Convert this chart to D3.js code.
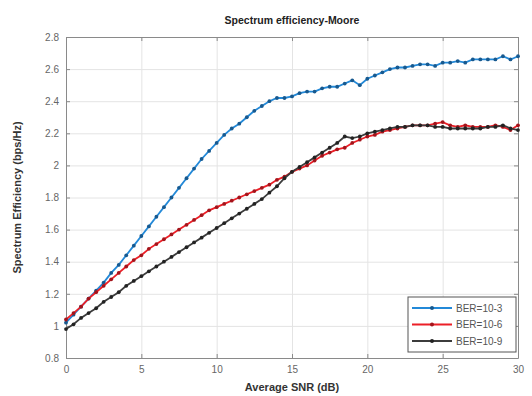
<!DOCTYPE html>
<html>
<head>
<meta charset="utf-8">
<script src="https://cdn.jsdelivr.net/npm/d3@7"></script>
<style>
  body { margin: 0; background: #fff; }
  svg { display: block; font-family: Arial, "Liberation Sans", sans-serif; }
</style>
</head>
<body>
<div id="vis"></div>
<script>
// SNR steps, 0..30 dB every 0.5 dB
var snr = d3.range(0, 30.01, 0.5);

var ber3 = [1.02, 1.07, 1.12, 1.17, 1.22, 1.27, 1.33, 1.38, 1.44, 1.50,
            1.56, 1.62, 1.68, 1.74, 1.80, 1.86, 1.92, 1.98, 2.04, 2.09,
            2.14, 2.19, 2.23, 2.26, 2.30, 2.34, 2.37, 2.40, 2.42, 2.42,
            2.43, 2.45, 2.46, 2.46, 2.48, 2.49, 2.49, 2.51, 2.53, 2.50,
            2.54, 2.56, 2.58, 2.60, 2.61, 2.61, 2.62, 2.63, 2.63, 2.62,
            2.64, 2.64, 2.65, 2.64, 2.66, 2.66, 2.66, 2.66, 2.68, 2.66, 2.68];

var ber6 = [1.04, 1.08, 1.12, 1.17, 1.21, 1.25, 1.29, 1.33, 1.37, 1.41,
            1.44, 1.48, 1.51, 1.54, 1.57, 1.60, 1.63, 1.66, 1.69, 1.72,
            1.74, 1.76, 1.78, 1.80, 1.82, 1.84, 1.86, 1.88, 1.91, 1.93,
            1.96, 1.98, 2.00, 2.03, 2.06, 2.08, 2.10, 2.11, 2.14, 2.16,
            2.18, 2.19, 2.21, 2.22, 2.23, 2.24, 2.25, 2.25, 2.25, 2.26,
            2.27, 2.25, 2.24, 2.25, 2.24, 2.24, 2.24, 2.25, 2.24, 2.22, 2.25];

var ber9 = [0.98, 1.01, 1.05, 1.08, 1.11, 1.15, 1.18, 1.21, 1.25, 1.28,
            1.31, 1.34, 1.37, 1.40, 1.43, 1.46, 1.49, 1.52, 1.55, 1.58,
            1.61, 1.64, 1.67, 1.70, 1.73, 1.76, 1.79, 1.83, 1.87, 1.92,
            1.96, 1.99, 2.02, 2.05, 2.08, 2.11, 2.14, 2.18, 2.17, 2.18,
            2.20, 2.21, 2.22, 2.23, 2.24, 2.24, 2.25, 2.25, 2.25, 2.24,
            2.24, 2.23, 2.23, 2.23, 2.23, 2.23, 2.24, 2.24, 2.25, 2.23, 2.22];

var seriesNames = ["BER=10-3", "BER=10-6", "BER=10-9"];
var xTicks = [0, 5, 10, 15, 20, 25, 30];
var yTicks = [0.8, 1, 1.2, 1.4, 1.6, 1.8, 2, 2.2, 2.4, 2.6, 2.8];

var width = 532, height = 396;
var margin = {top: 37, right: 14, bottom: 38, left: 66};
var plotW = width - margin.left - margin.right,
    plotH = height - margin.top - margin.bottom;

var colors = ["#2389d8", "#ec1f27", "#3c3c3c"],
    markColors = ["#17598f", "#a3141b", "#222222"];

var svg = d3.select("#vis").append("svg")
    .attr("width", width)
    .attr("height", height);

var x = d3.scaleLinear().domain([0, 30]).range([0, plotW]),
    y = d3.scaleLinear().domain([0.8, 2.8]).range([plotH, 0]);

var g = svg.append("g")
    .attr("transform", "translate(" + margin.left + "," + margin.top + ")");

// grid
g.append("g")
    .attr("transform", "translate(0," + plotH + ")")
    .call(d3.axisBottom(x).tickValues(xTicks).tickSize(-plotH).tickFormat(""))
    .call(function(s) { s.select(".domain").remove(); })
    .selectAll("line").attr("stroke", "#e4e4e4");

g.append("g")
    .call(d3.axisLeft(y).tickValues(yTicks).tickSize(-plotW).tickFormat(""))
    .call(function(s) { s.select(".domain").remove(); })
    .selectAll("line").attr("stroke", "#e4e4e4");

// axes, ticks pointing inward like matlab
function styleAxis(s) {
  s.select(".domain").attr("stroke", "#8a8a8a");
  s.selectAll(".tick line").attr("stroke", "#8a8a8a");
  s.selectAll("text").attr("fill", "#666").style("font-size", "10px");
}

g.append("g")
    .attr("transform", "translate(0," + plotH + ")")
    .call(d3.axisBottom(x).tickValues(xTicks).tickSizeInner(-4).tickSizeOuter(0).tickPadding(8))
    .call(styleAxis);

g.append("g")
    .call(d3.axisTop(x).tickValues(xTicks).tickSizeInner(-4).tickSizeOuter(0).tickFormat(""))
    .call(styleAxis);

g.append("g")
    .call(d3.axisLeft(y).tickValues(yTicks).tickSizeInner(-4).tickSizeOuter(0).tickPadding(7)
      .tickFormat(function(d) { return d3.format("")(+d.toFixed(1)); }))
    .call(styleAxis);

g.append("g")
    .attr("transform", "translate(" + plotW + ",0)")
    .call(d3.axisRight(y).tickValues(yTicks).tickSizeInner(-4).tickSizeOuter(0).tickFormat(""))
    .call(styleAxis);

// curves
var allSeries = [ber3, ber6, ber9];
var line = d3.line()
    .x(function(d, i) { return x(snr[i]); })
    .y(function(d) { return y(d); });

allSeries.forEach(function(vals, k) {
  g.append("path")
    .datum(vals)
    .attr("fill", "none")
    .attr("stroke", colors[k])
    .attr("stroke-width", 1.8)
    .attr("d", line);

  g.selectAll(".m" + k)
    .data(vals)
    .enter().append("circle")
      .attr("class", "m" + k)
      .attr("cx", function(d, i) { return x(snr[i]); })
      .attr("cy", function(d) { return y(d); })
      .attr("r", 1.9)
      .attr("fill", markColors[k]);
});

// title and labels
svg.append("text")
    .attr("x", margin.left + plotW / 2)
    .attr("y", 24)
    .attr("text-anchor", "middle")
    .style("font-size", "10.5px")
    .style("font-weight", "bold")
    .attr("fill", "#222")
    .text("Spectrum efficiency-Moore");

svg.append("text")
    .attr("x", margin.left + plotW / 2)
    .attr("y", 391)
    .attr("text-anchor", "middle")
    .style("font-size", "11px")
    .style("font-weight", "bold")
    .attr("fill", "#333")
    .text("Average SNR (dB)");

svg.append("text")
    .attr("transform", "translate(21," + (margin.top + plotH / 2) + ") rotate(-90)")
    .attr("text-anchor", "middle")
    .style("font-size", "11px")
    .style("font-weight", "bold")
    .attr("fill", "#333")
    .text("Spectrum Efficiency (bps/Hz)");

// legend
var legend = g.append("g");
var legX = plotW - 110, legY = 260, legRow = 16.5;

legend.append("rect")
    .attr("x", legX)
    .attr("y", legY)
    .attr("width", 108)
    .attr("height", 55)
    .attr("fill", "#fff")
    .attr("stroke", "#555")
    .attr("stroke-width", 1);

seriesNames.forEach(function(name, k) {
  var ly = legY + 11 + k * legRow;
  legend.append("line")
    .attr("x1", legX + 4).attr("x2", legX + 44)
    .attr("y1", ly).attr("y2", ly)
    .attr("stroke", colors[k])
    .attr("stroke-width", 1.8);
  legend.append("circle")
    .attr("cx", legX + 24).attr("cy", ly).attr("r", 2)
    .attr("fill", markColors[k]);
  legend.append("text")
    .attr("x", legX + 48)
    .attr("y", ly + 3.5)
    .style("font-size", "10px")
    .attr("fill", "#555")
    .text(name);
});
</script>
</body>
</html>
